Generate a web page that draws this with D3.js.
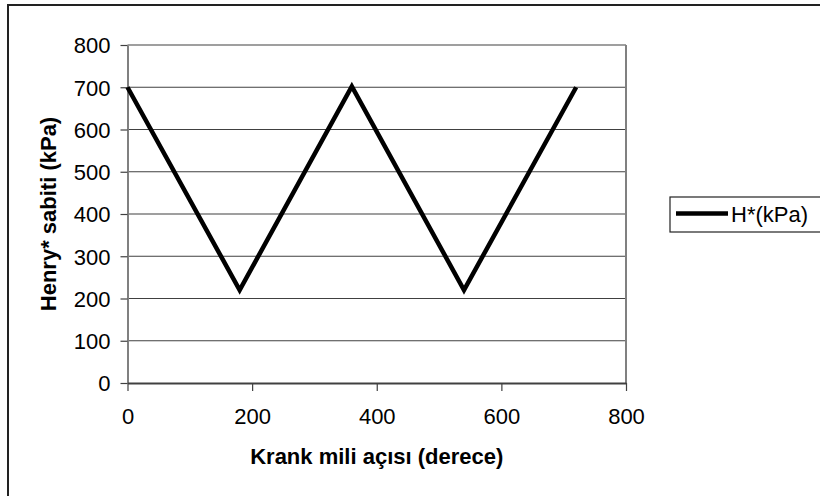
<!DOCTYPE html>
<html>
<head>
<meta charset="utf-8">
<script src="https://cdn.jsdelivr.net/npm/d3@7"></script>
<style>
  html, body { margin: 0; padding: 0; background: #fff; }
  svg { display: block; font-family: Arial, "Liberation Sans", sans-serif; }
  .tick text { font-size: 22px; fill: #000; }
  .axis-title { font-size: 22px; font-weight: bold; fill: #000; }
</style>
</head>
<body>
<div id="chart"></div>
<script>
// crank angle (deg) vs Henry* constant (kPa)
const angles = [0, 180, 360, 540, 720];
const henryValues = [700, 220, 702, 220, 700];
const xTicks = [0, 200, 400, 600, 800];
const yTicks = [0, 100, 200, 300, 400, 500, 600, 700, 800];
const seriesName = "H*(kPa)";

const width = 820;
const height = 496;
const plot = { left: 127.5, right: 626, top: 45, bottom: 383 };

const svg = d3.select("#chart").append("svg")
  .attr("width", width)
  .attr("height", height);

svg.append("rect")
  .attr("x", 8)
  .attr("y", 5)
  .attr("width", width + 20)
  .attr("height", height + 20)
  .attr("fill", "#fff")
  .attr("stroke", "#222")
  .attr("stroke-width", 2);

const x = d3.scaleLinear().domain([0, 800]).range([plot.left, plot.right]);
const y = d3.scaleLinear().domain([0, 800]).range([plot.bottom, plot.top]);

// gridlines
svg.append("g")
  .selectAll("line")
  .data(yTicks.filter(d => d > 0))
  .join("line")
  .attr("x1", plot.left)
  .attr("x2", plot.right)
  .attr("y1", d => y(d))
  .attr("y2", d => y(d))
  .attr("stroke", "#404040")
  .attr("stroke-width", 1.2);

// right border of plot area
svg.append("line")
  .attr("x1", plot.right)
  .attr("x2", plot.right)
  .attr("y1", plot.top)
  .attr("y2", plot.bottom)
  .attr("stroke", "#808080")
  .attr("stroke-width", 2);

const yAxis = svg.append("g")
  .attr("transform", `translate(${plot.left},0)`)
  .call(d3.axisLeft(y).tickValues(yTicks).tickSize(7).tickPadding(10).tickSizeOuter(0));
yAxis.select(".domain").attr("stroke", "#808080").attr("stroke-width", 2);
yAxis.selectAll(".tick line").attr("stroke", "#404040").attr("stroke-width", 1.2);
yAxis.selectAll(".tick text").attr("dy", "0.36em");

const xAxis = svg.append("g")
  .attr("transform", `translate(0,${plot.bottom})`)
  .call(d3.axisBottom(x).tickValues(xTicks).tickSize(8).tickPadding(17).tickSizeOuter(0));
xAxis.select(".domain").attr("stroke", "#404040").attr("stroke-width", 2);
xAxis.selectAll(".tick line").attr("stroke", "#404040").attr("stroke-width", 1.2);

// series
const line = d3.line()
  .x((d, i) => x(angles[i]))
  .y(d => y(d));

svg.append("path")
  .datum(henryValues)
  .attr("d", line)
  .attr("fill", "none")
  .attr("stroke", "#000")
  .attr("stroke-width", 4.5)
  .attr("stroke-linejoin", "miter");

// axis titles
svg.append("text")
  .attr("class", "axis-title")
  .attr("x", (plot.left + plot.right) / 2)
  .attr("y", 464)
  .attr("text-anchor", "middle")
  .text("Krank mili açısı (derece)");

svg.append("text")
  .attr("class", "axis-title")
  .attr("transform", `translate(56,${(plot.top + plot.bottom) / 2}) rotate(-90)`)
  .attr("text-anchor", "middle")
  .text("Henry* sabiti (kPa)");

// legend
const legend = svg.append("g");
legend.append("rect")
  .attr("x", 670)
  .attr("y", 197)
  .attr("width", 180)
  .attr("height", 35)
  .attr("fill", "#fff")
  .attr("stroke", "#222")
  .attr("stroke-width", 1.2);
legend.append("line")
  .attr("x1", 676)
  .attr("x2", 728)
  .attr("y1", 213.5)
  .attr("y2", 213.5)
  .attr("stroke", "#000")
  .attr("stroke-width", 4.5);
legend.append("text")
  .attr("x", 731)
  .attr("y", 222)
  .style("font-size", "22px")
  .text(seriesName);
</script>
</body>
</html>
